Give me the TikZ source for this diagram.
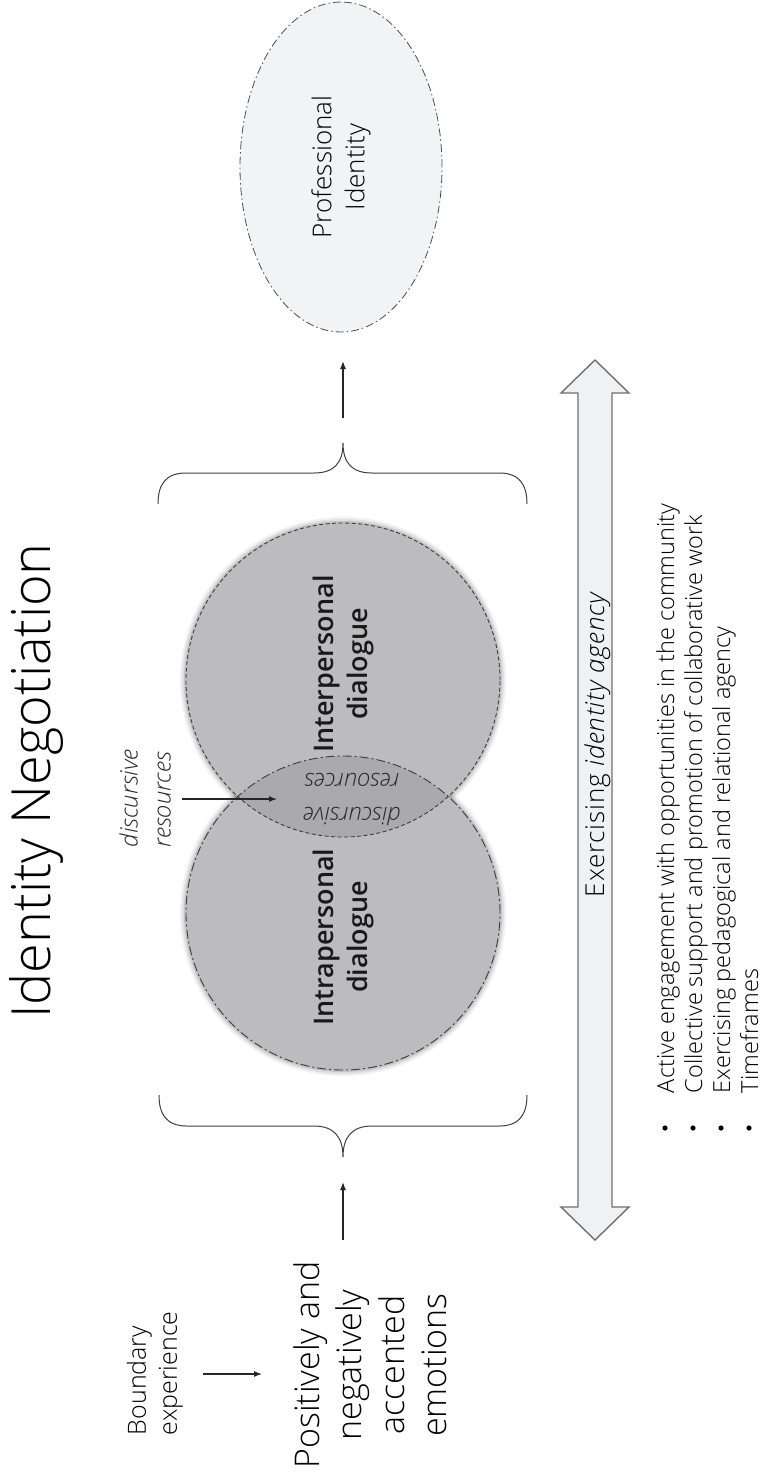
\documentclass[tikz,border=0pt]{standalone}
\usepackage{fontspec}
\usetikzlibrary{shapes.geometric,arrows.meta}
\setmainfont{Open Sans}
\IfFontExistsTF{Open Sans Light}{\newfontfamily\lightfont{Open Sans Light}}{\newfontfamily\lightfont{Open Sans}}
\IfFontExistsTF{Open Sans Light Italic}{\newfontfamily\lightitfont{Open Sans Light Italic}}{\newcommand\lightitfont{\lightfont\itshape}}
\IfFontExistsTF{Open Sans SemiBold}{\newfontfamily\semifont{Open Sans SemiBold}}{\IfFontExistsTF{Open Sans Semibold}{\newfontfamily\semifont{Open Sans Semibold}}{\newcommand\semifont{\bfseries}}}
\newcommand\fs[2]{\fontsize{#1}{#2}\selectfont}
\definecolor{circfill}{RGB}{188,188,192}
\definecolor{lensfill}{RGB}{170,170,174}
\definecolor{bordergray}{RGB}{60,60,60}
\definecolor{ellfill}{RGB}{242,243,244}
\definecolor{arrfill}{RGB}{240,241,242}
\definecolor{arrdraw}{RGB}{112,112,112}
\definecolor{txtgray}{RGB}{40,40,40}
\begin{document}
\begin{tikzpicture}[x=1pt,y=-1pt,
  every node/.style={inner sep=0pt, outer sep=0pt},
  rot/.style={rotate=90},
  titletext/.style={rot, anchor=base, font=\lightfont\fs{54}{60}},
  circtext/.style={rot, align=center, font=\semifont\fs{27}{34}, text=black!90},
  bigtext/.style={rot, align=center, font=\lightfont\fs{34}{42.5}},
  smalltext/.style={rot, font=\lightfont\fs{25}{31}},
  bullettext/.style={rot, anchor=base west, font=\lightfont\fs{23.5}{28}},
  conn/.style={line width=1.1pt, black!85, -{Latex[length=8pt,width=6pt]}},
  bracestyle/.style={line width=1pt, black!75},
  circbase/.style={circle, minimum size=314pt, fill=circfill},
  dashedborder/.style={draw=bordergray, line width=0.9pt, dash pattern=on 4pt off 2.5pt},
  dashdotborder/.style={draw=bordergray, line width=0.9pt, dash pattern=on 9pt off 3pt on 2pt off 3pt}
]
\useasboundingbox (0,0) rectangle (764,1484);
\fill[white] (0,0) rectangle (764,1484);

% title
\node[titletext] (title) at (50,781) {Identity Negotiation};

% professional identity
\node[ellipse, rot, minimum width=330pt, minimum height=202pt, fill=ellfill,
      draw=black!70, line width=0.8pt, dash pattern=on 8pt off 3pt on 1.5pt off 3pt,
      align=center, font=\lightfont\fs{26}{33}] (prof) at (341,167) {Professional\\Identity};

% halos
\foreach \r/\o in {163/0.05,161/0.08,159/0.12} {
  \fill[black,opacity=\o] (343,680) circle[radius=\r pt];
  \fill[black,opacity=\o] (343,913) circle[radius=\r pt];
}
% circles
\node[circbase] (inter) at (343,680) {};
\node[circbase] (intra) at (343,913) {};
\begin{scope}
  \clip (343,680) circle[radius=157pt];
  \fill[lensfill] (343,913) circle[radius=157pt];
\end{scope}
\path[dashedborder] (inter.center) circle[radius=157pt];
\path[dashdotborder] (intra.center) circle[radius=157pt];

\node[circtext] (intert) at (343,664) {Interpersonal\\dialogue};
\node[circtext] (intrat) at (343,937) {Intrapersonal\\dialogue};
\node[rotate=180, align=center, font=\lightitfont\fs{24}{34}, text=txtgray] (lens) at (352,799) {discursive\\resources};

% discursive resources label
\node[rot, anchor=west, align=left, font=\lightitfont\fs{24}{33}, text=txtgray] (dlabel) at (145,847) {discursive\\resources};
\coordinate (dl1) at (182,799);
\coordinate (dl2) at (277,799);
\draw[conn] (dl1) -- (dl2);

% braces
\draw[bracestyle] (158,504) .. controls (158,484) and (166,473) .. (186,473) -- (314,473)
   .. controls (334,473) and (343,463) .. (343,443)
   .. controls (343,463) and (352,473) .. (372,473) -- (499,473)
   .. controls (519,473) and (527,484) .. (527,504);
\draw[bracestyle] (159,1095) .. controls (159,1115) and (167,1126) .. (187,1126) -- (314,1126)
   .. controls (334,1126) and (343,1137) .. (343,1157)
   .. controls (343,1137) and (352,1126) .. (372,1126) -- (499,1126)
   .. controls (519,1126) and (527,1115) .. (527,1095);

% arrows between brace and nodes
\coordinate (ua1) at (343,418);
\coordinate (ua2) at (343,361);
\draw[conn] (ua1) -- (ua2);
\coordinate (la1) at (343,1240);
\coordinate (la2) at (343,1182);
\draw[conn] (la1) -- (la2);

% emotions
\node[bigtext] (emo) at (370,1365) {Positively and\\negatively\\accented\\emotions};
\node[smalltext, anchor=west, align=left] (bound) at (155,1435) {Boundary\\experience};
\coordinate (be1) at (203,1374);
\coordinate (be2) at (262,1374);
\draw[conn] (be1) -- (be2);

% double arrow
\filldraw[fill=arrfill, draw=arrdraw, line width=1.4pt, line join=miter]
  (595,360) -- (629,393) -- (612,393) -- (612,1207) -- (629,1207) -- (595,1240)
  -- (561,1207) -- (578,1207) -- (578,393) -- (561,393) -- cycle;
\node[rot, anchor=base, font=\lightfont\fs{26}{30}\addfontfeature{LetterSpace=3}] (agency) at (604,745) {Exercising {\lightitfont\addfontfeature{LetterSpace=3}identity agency}};

% bullets
\node[bullettext] (b1) at (674,1093) {Active engagement with opportunities in the community};
\node[bullettext] (b2) at (702,1093) {Collective support and promotion of collaborative work};
\node[bullettext] (b3) at (730,1093) {Exercising pedagogical and relational agency};
\node[bullettext] (b4) at (758,1093) {Timeframes};
\foreach \bx in {665,693,721,749} { \fill[black] (\bx,1128) circle[radius=2.6pt]; }
\end{tikzpicture}
\end{document}
